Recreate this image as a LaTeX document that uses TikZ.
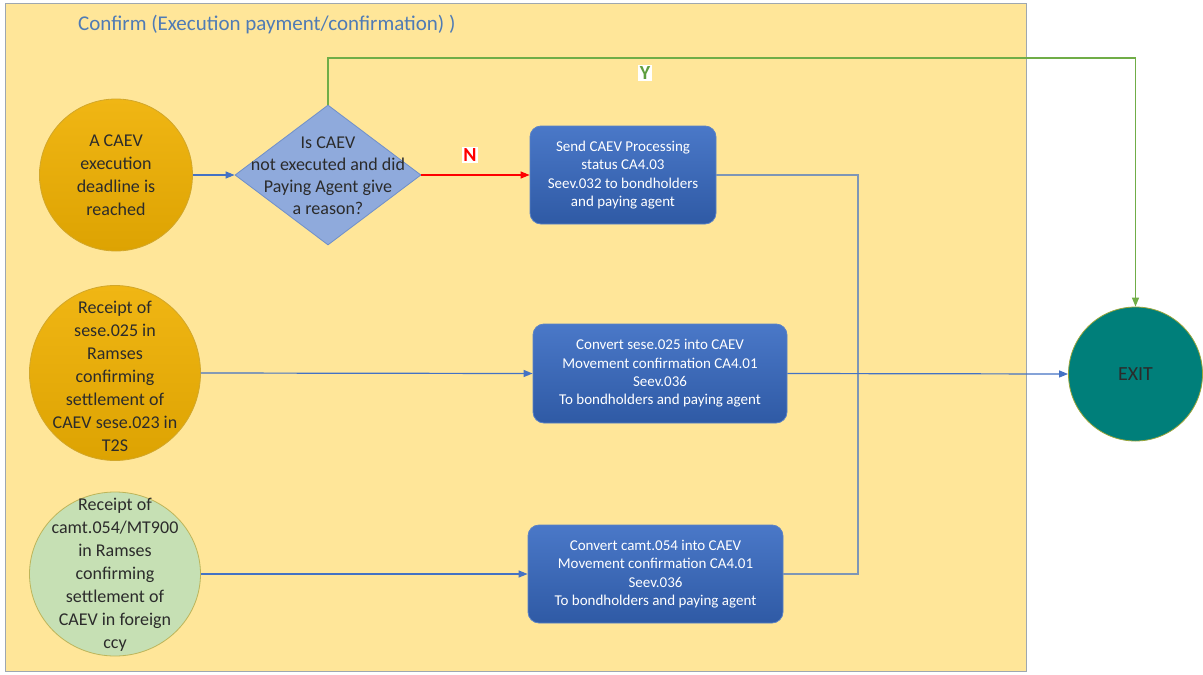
\documentclass[tikz,border=0pt]{standalone}
\usepackage{fontspec}
\setmainfont{Carlito}
\usetikzlibrary{shapes.geometric,arrows.meta}
\definecolor{panelfill}{HTML}{FFE699}
\definecolor{panelline}{HTML}{9EA7B0}
\definecolor{titleblue}{HTML}{4F7BB5}
\definecolor{goldtop}{HTML}{F0B614}
\definecolor{goldbot}{HTML}{DDA302}
\definecolor{goldline}{HTML}{D2A72A}
\definecolor{greenfill}{HTML}{C6E0B4}
\definecolor{greenline}{HTML}{BDB55A}
\definecolor{diafill}{HTML}{8FAADC}
\definecolor{dialine}{HTML}{6F8FC9}
\definecolor{boxtop}{HTML}{4A78C8}
\definecolor{boxbot}{HTML}{2F5AA5}
\definecolor{boxline}{HTML}{5A82C6}
\definecolor{exitfill}{HTML}{007F7A}
\definecolor{exitline}{HTML}{9AA53A}
\definecolor{flowblue}{HTML}{4472C4}
\definecolor{mergeline}{HTML}{7E96B6}
\definecolor{ygreen}{HTML}{70AD47}
\definecolor{ylabel}{HTML}{5E9E3E}
\definecolor{txtdark}{HTML}{2B2B2B}
\tikzset{
  panelbox/.style={draw=panelline, fill=panelfill, line width=1.2pt},
  goldcirc/.style={ellipse, draw=goldline, line width=0.8pt, top color=goldtop, bottom color=goldbot, inner sep=0pt},
  greencirc/.style={ellipse, draw=greenline, line width=0.8pt, fill=greenfill, inner sep=0pt},
  circtext/.style={align=center, text=txtdark, font=\fontsize{18}{23}\selectfont, inner sep=0pt},
  decision/.style={diamond, draw=dialine, line width=0.8pt, fill=diafill, inner sep=0pt},
  diatext/.style={align=center, text=txtdark, font=\fontsize{18}{22}\selectfont, inner sep=0pt},
  procbox/.style={rectangle, rounded corners=11pt, draw=boxline, line width=0.8pt, top color=boxtop, bottom color=boxbot, text=white, align=center, font=\fontsize{15}{18.3}\selectfont, inner sep=2pt},
  exitnode/.style={circle, draw=exitline, line width=0.8pt, fill=exitfill, text=txtdark, font=\fontsize{20}{24}\selectfont, inner sep=0pt, minimum size=134pt},
  flow/.style={draw=flowblue, line width=1.2pt, -{Triangle[length=9pt,width=7pt]}},
  merge/.style={draw=mergeline, line width=1.2pt},
  redflow/.style={draw=red, line width=1.2pt, -{Triangle[length=9pt,width=7pt]}},
  greenflow/.style={draw=ygreen, line width=1.2pt, -{Triangle[length=9pt,width=7pt]}},
  flowlabel/.style={fill=white, inner sep=1.5pt, font=\bfseries\fontsize{20}{22}\selectfont}
}
\begin{document}
\begin{tikzpicture}[x=1pt,y=-1pt]
\useasboundingbox (0,0) rectangle (1203,675);
\fill[white] (0,0) rectangle (1203,675);
\node[panelbox, rectangle, inner sep=0pt, minimum width=1021pt, minimum height=668pt, anchor=north west] (panel) at (5,3) {};
\node[anchor=west, text=titleblue, font=\fontsize{21}{24}\selectfont, inner sep=0pt] (title) at (78,25) {Confirm (Execution payment/confirmation) )};

% start events
\node[goldcirc, minimum width=153pt, minimum height=152pt] (c1) at (116,175) {};
\node[circtext] (c1t) at (c1) {A CAEV\\execution\\deadline is\\reached};
\node[goldcirc, minimum width=171pt, minimum height=175pt] (c2) at (115,373) {};
\node[circtext] (c2t) at (115,376) {Receipt of\\sese.025 in\\Ramses\\confirming\\settlement of\\CAEV sese.023 in\\T2S};
\node[greencirc, minimum width=171pt, minimum height=164pt] (c3) at (115,574) {};
\node[circtext] (c3t) at (115,575) {Receipt of\\camt.054/MT900\\in Ramses\\confirming\\settlement of\\CAEV in foreign\\ccy};

% decision
\node[decision, minimum width=186pt, minimum height=140pt] (dia) at (328,175) {};
\node[diatext] (diat) at (328,176) {Is CAEV\\not executed and did\\Paying Agent give\\a reason?};

% processes
\node[procbox, minimum width=186pt, minimum height=98pt] (b1) at (623,175) {Send CAEV Processing\\status CA4.03\\Seev.032 to bondholders\\and paying agent};
\node[procbox, minimum width=254pt, minimum height=99pt] (b2) at (660,373.5) {Convert sese.025 into CAEV\\Movement confirmation CA4.01\\Seev.036\\To bondholders and paying agent};
\node[procbox, minimum width=255pt, minimum height=98pt] (b3) at (655.5,574) {Convert camt.054 into CAEV\\Movement confirmation CA4.01\\Seev.036\\To bondholders and paying agent};

% exit
\node[exitnode] (exit) at (1135.5,374) {EXIT};

% connectors
\coordinate (ycorner) at (1135.5,58);
\coordinate (mjoin) at (858,574);
\draw[flow] (c1.east) -- (dia.west);
\draw[redflow] (dia.east) -- (b1.west);
\draw[greenflow] (dia.north) |- (ycorner) -- (exit.north);
\draw[flow] (c2.east) -- (b2.west);
\draw[flow] (c3.east) -- (b3.west);
\draw[merge] (b1.east) -| (mjoin) -- (b3.east);
\draw[flow] (b2.east) -- (exit.west);

% labels
\node[flowlabel, text=red] (nlab) at (470,155) {N};
\node[flowlabel, text=ylabel] (ylab) at (645,73) {Y};
\end{tikzpicture}
\end{document}
